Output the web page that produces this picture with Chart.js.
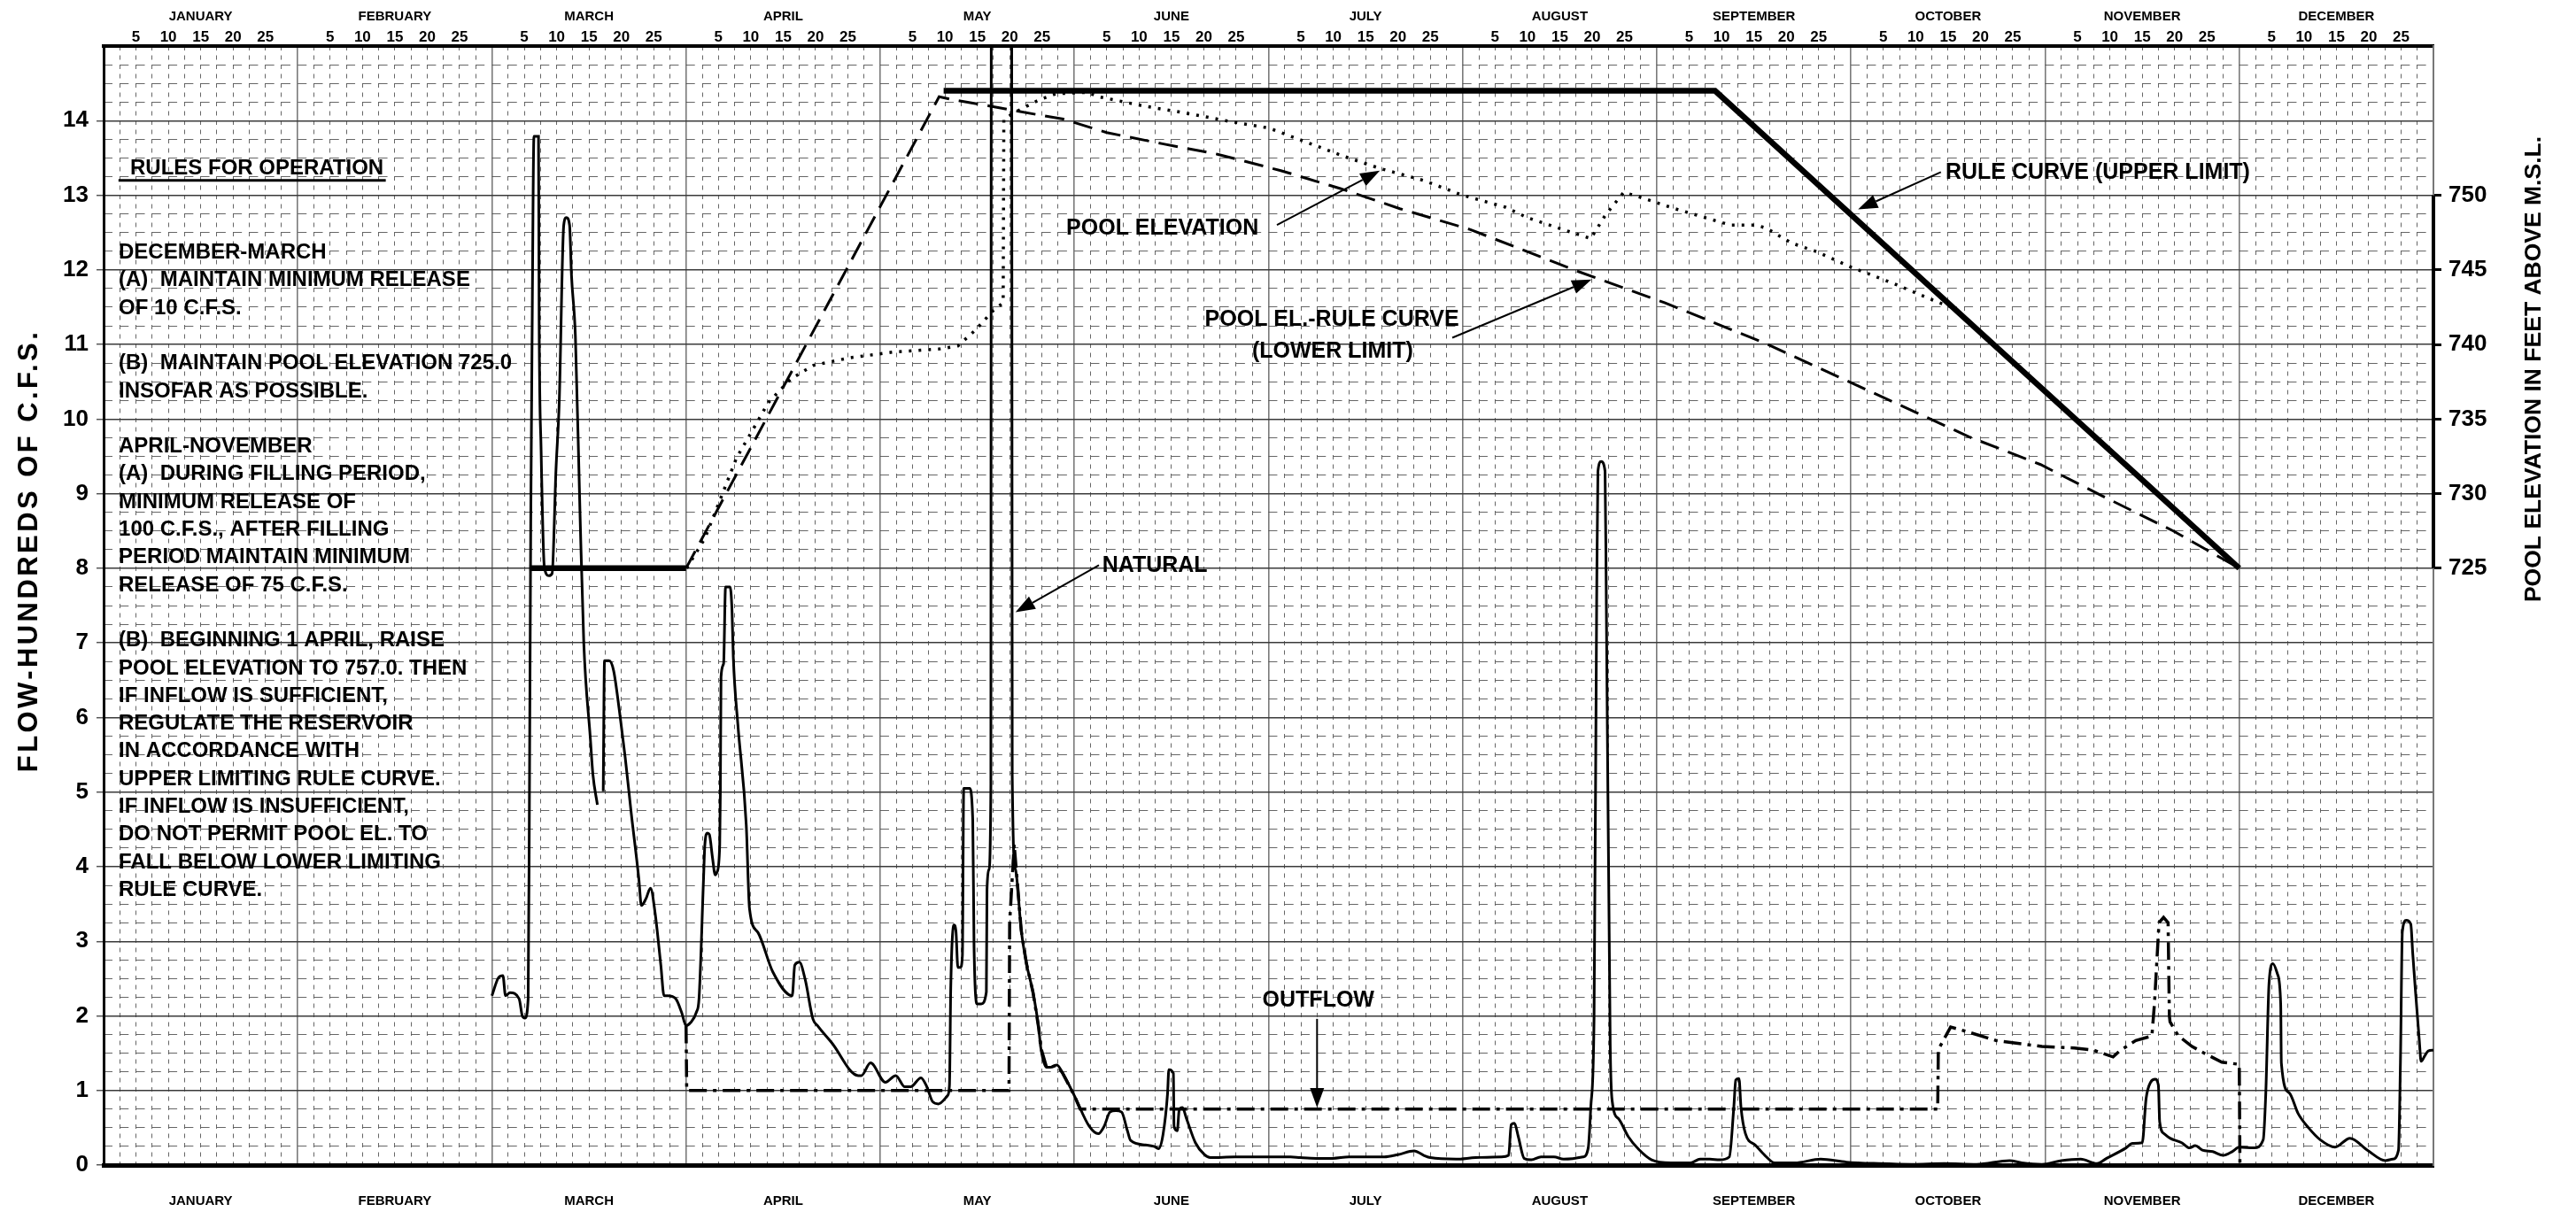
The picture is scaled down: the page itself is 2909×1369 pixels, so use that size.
<!DOCTYPE html>
<html>
<head>
<meta charset="utf-8">
<script src="https://cdn.jsdelivr.net/npm/chart.js@4.4.1/dist/chart.umd.min.js"></script>
<style>
  html, body { margin: 0; padding: 0; background: #fff; }
  #wrap { width: 2909px; height: 1369px; }
</style>
</head>
<body>
<div id="wrap"><canvas id="chart" width="2909" height="1369"></canvas></div>
<script>
// x is a day position on a 30-day-month year: Jan 1 = 0, Dec 31 = 360
const months = ['JANUARY', 'FEBRUARY', 'MARCH', 'APRIL', 'MAY', 'JUNE',
  'JULY', 'AUGUST', 'SEPTEMBER', 'OCTOBER', 'NOVEMBER', 'DECEMBER'];
const dayLabels = [5, 10, 15, 20, 25];
const flowTicks = [0, 1, 2, 3, 4, 5, 6, 7, 8, 9, 10, 11, 12, 13, 14];
const elevTicks = [725, 730, 735, 740, 745, 750];

// natural flow, hundreds of c.f.s.
const naturalDay = [60.0, 61.0, 61.7, 62.1, 62.8, 64.2, 64.7, 65.1, 65.6, 65.8, 66.0, 66.2, 66.5, 67.2, 67.3, 67.6,
  68.1, 68.8, 69.3, 69.9, 70.4, 71.1, 71.5, 72.0, 72.3, 72.9, 73.6, 74.2, 75.2, 75.6, 76.3, 76.8,
  77.2, 77.4, 78.1, 78.8, 79.7, 80.6, 81.5, 82.7, 83.1, 83.8, 84.5, 85.2, 86.1, 86.6, 87.2, 88.4,
  89.3, 90.0, 90.7, 91.6, 92.0, 92.7, 92.9, 93.3, 93.6, 94.1, 94.5, 94.8, 95.2, 95.3, 95.4, 95.8,
  96.1, 96.8, 97.1, 97.3, 98.0, 99.3, 99.8, 101.1, 103.4, 106.4, 106.8, 107.5, 108.4, 109.6, 110.3,
  112.5, 116.6, 117.1, 118.5, 120.8, 122.4, 123.8, 124.7, 126.3, 127.2, 128.1, 129.0, 130.4, 130.7,
  130.9, 131.4, 131.7, 132.0, 132.4, 132.7, 132.9, 133.8, 134.3, 134.5, 135.0, 135.6, 136.4, 136.5,
  136.8, 137.1, 137.3, 140.1, 140.4, 140.9, 141.8, 142.6, 143.6, 144.5, 144.8, 145.7, 146.3, 147.3,
  148.2, 150.0, 152.3, 153.7, 154.6, 155.5, 156.4, 157.3, 158.2, 158.7, 161.0, 162.3, 163.0, 163.7,
  164.4, 164.6, 165.3, 165.4, 165.9, 166.2, 166.7, 167.3, 168.7, 170.1, 171.0, 174.8, 180.8, 183.4,
  184.9, 187.4, 189.9, 192.4, 194.9, 197.9, 200.0, 202.5, 204.0, 205.0, 209.0, 212.0, 216.0, 217.1,
  217.5, 218.0, 218.6, 219.5, 220.6, 222.1, 224.1, 225.6, 228.6, 229.4, 229.8, 230.3, 230.7, 230.9,
  231.4, 232.0, 232.2, 232.8, 233.1, 234.1, 235.6, 237.2, 239.2, 242.2, 245.2, 246.7, 248.2, 249.7,
  251.2, 251.9, 252.2, 252.7, 253.0, 253.7, 255.2, 256.7, 258.2, 261.3, 265.3, 269.3, 274.3, 279.4,
  284.4, 289.4, 294.5, 296.4, 299.5, 302.5, 305.5, 308.0, 309.5, 312.5, 313.5, 315.0, 315.6, 316.3,
  317.0, 317.5, 317.7, 318.4, 319.3, 321.1, 322.3, 323.2, 324.3, 325.9, 327.5, 328.9, 330.0, 332.3,
  333.7, 334.1, 334.6, 335.2, 335.9, 336.4, 336.5, 337.7, 339.1, 340.7, 342.5, 344.8, 347.1, 349.8,
  352.6, 353.7, 354.6, 354.9, 355.2, 355.8, 356.5, 356.8, 357.2, 357.8, 358.1, 358.7, 359.2, 360.0];
const naturalFlow = [2.27, 2.51, 2.54, 2.27, 2.31, 2.23, 2.00, 1.97, 2.23, 5.01, 8.6, 11.0, 13.79, 13.79, 11.3, 9.59,
  8.02, 7.90, 7.93, 9.32, 10.22, 12.6, 12.70, 12.6, 11.92, 11.11, 8.78, 6.99, 5.73, 5.24, 4.83, null,
  5.01, 6.76, 6.76, 6.63, 6.09, 5.46, 4.74, 3.84, 3.48, 3.57, 3.71, 3.39, 2.68, 2.27, 2.27, 2.23,
  2.05, 1.87, 1.91, 2.05, 2.23, 3.84, 4.29, 4.45, 4.43, 4.11, 3.89, 3.93, 4.29, 5.01, 6.54, 6.72,
  7.75, 7.75, 7.43, 6.81, 5.91, 4.56, 3.44, 3.12, 2.59, 2.27, 2.68, 2.72, 2.49, 1.96, 1.87,
  1.64, 1.20, 1.20, 1.37, 1.11, 1.20, 1.05, 1.05, 1.17, 1.05, 0.85, 0.82, 0.93, 1.07,
  2.38, 3.22, 3.14, 2.65, 2.65, 2.81, 5.05, 5.05, 4.62, 2.92, 2.16, 2.16, 2.32, 3.69,
  3.96, 5.11, 40, 40, 5.22, 3.96, 3.14, 2.70, 2.32, 1.83, 1.58, 1.31, 1.31, 1.34,
  1.23, 0.93, 0.52, 0.42, 0.52, 0.71, 0.73, 0.71, 0.46, 0.33, 0.27, 0.25, 0.22, 0.41,
  0.96, 1.28, 1.23, 0.52, 0.46, 0.74, 0.77, 0.63, 0.30, 0.14, 0.10, 0.11, 0.11, 0.11,
  0.10, 0.09, 0.09, 0.11, 0.11, 0.11, 0.14, 0.19, 0.13, 0.10, 0.08, 0.10, 0.11, 0.13,
  0.54, 0.56, 0.38, 0.09, 0.07, 0.11, 0.11, 0.08, 0.11, 0.23, 0.78, 1.97, 7.5, 9.3,
  9.43, 9.3, 7.5, 1.6, 0.86, 0.62, 0.38, 0.21, 0.07, 0.03, 0.03, 0.08, 0.08, 0.07,
  0.11, 0.78, 1.14, 1.16, 0.78, 0.42, 0.27, 0.13, 0.03, 0.03, 0.08, 0.04, 0.02, 0.01,
  0.02, 0.01, 0.06, 0.03, 0.01, 0.06, 0.08, 0.02, 0.09, 0.23, 0.29, 0.30, 0.89, 1.11,
  1.15, 1.07, 0.58, 0.42, 0.36, 0.30, 0.23, 0.26, 0.20, 0.18, 0.13, 0.18, 0.24, 0.23,
  0.34, 0.97, 2.44, 2.70, 2.56, 2.16, 1.37, 0.97, 0.69, 0.50, 0.34, 0.24, 0.36, 0.20,
  0.06, 0.08, 0.20, 1.37, 3.13, 3.28, 3.23, 2.84, 2.36, 1.69, 1.39, 1.47, 1.53, 1.54];

// outflow, hundreds of c.f.s.
const outflowDay = [90.0, 90.1, 139.9, 140.0, 140.7, 141.8, 142.6, 143.6, 144.5, 144.8, 145.7, 146.3, 147.3,
  148.2, 150.0, 150.9, 283.4, 283.5, 285.4, 287.9, 292.4, 299.5, 304.5, 307.5, 310.5, 311.5, 314.0,
  316.5, 316.9, 317.6, 318.3, 319.0, 319.2, 319.3, 320.6, 322.7, 324.8, 327.3, 330.0, 330.1];
const outflowFlow = [1.87, 1.0, 1.0, 3.25, 4.3, 3.14, 2.70, 2.32, 1.83, 1.58, 1.31, 1.31, 1.34,
  1.23, 0.93, 0.75, 0.75, 1.55, 1.85, 1.79, 1.67, 1.59, 1.57, 1.54, 1.45, 1.53, 1.67,
  1.73, 2.17, 3.25, 3.32, 3.25, 2.0, 1.92, 1.73, 1.59, 1.49, 1.38, 1.35, 0];

// elevations, feet above m.s.l.
const poolDay = [90.1, 92.9, 95.0, 97.8, 100.6, 102.7, 106.2, 109.7, 115.2, 122.2, 129.2, 132.0, 134.8, 137.3,
  139.0, 139.1, 141.0, 144.6, 147.1, 152.0, 153.8, 160.5, 167.3, 174.6, 180.1, 185.6, 191.7, 197.2,
  203.9, 210.0, 216.6, 220.0, 225.5, 229.8, 232.1, 234.9, 237.2, 242.8, 249.0, 251.4, 255.3, 256.9,
  260.8, 264.8, 269.9, 276.5, 283.6, 285.6];
const poolElev = [725.0, 727.0, 729.3, 732.4, 734.5, 736.1, 737.7, 738.6, 739.1, 739.5, 739.7, 739.9, 741.0, 742.2,
  742.8, 755.1, 755.6, 756.4, 756.8, 756.9, 756.6, 756.0, 755.5, 754.9, 754.5, 753.6, 752.6, 751.8,
  751.0, 750.0, 749.2, 748.5, 747.7, 747.1, 748.7, 750.2, 749.9, 749.1, 748.3, 748.0, 748.0, 747.8,
  746.8, 746.2, 745.2, 744.1, 742.8, 742.5];

const upperDay = [65.8, 90.0, 90.1, 129.8, 249.0, 330.0];
const upperElev = [725, 725, null, 757.0, 757.0, 725];

const lowerDay = [90.0, 129.1, 131.2, 136.7, 141.0, 148.3, 155.0, 163.6, 172.1, 181.9, 191.1, 200.3,
  211.2, 227.8, 241.2, 256.9, 268.7, 280.5, 288.3, 299.3, 308.8, 319.8, 330.0];
const lowerElev = [725, 756.6, 756.4, 756.0, 755.65, 755.1, 754.2, 753.45, 752.75, 751.65, 750.45, 749.1,
  747.7, 744.9, 742.8, 740.05, 737.7, 735.35, 733.8, 731.95, 729.85, 727.5, 725];

const rules = [
  'DECEMBER-MARCH',
  '(A)  MAINTAIN MINIMUM RELEASE',
  'OF 10 C.F.S.',
  '',
  '(B)  MAINTAIN POOL ELEVATION 725.0',
  'INSOFAR AS POSSIBLE.',
  '',
  'APRIL-NOVEMBER',
  '(A)  DURING FILLING PERIOD,',
  'MINIMUM RELEASE OF',
  '100 C.F.S., AFTER FILLING',
  'PERIOD MAINTAIN MINIMUM',
  'RELEASE OF 75 C.F.S.',
  '',
  '(B)  BEGINNING 1 APRIL, RAISE',
  'POOL ELEVATION TO 757.0. THEN',
  'IF INFLOW IS SUFFICIENT,',
  'REGULATE THE RESERVOIR',
  'IN ACCORDANCE WITH',
  'UPPER LIMITING RULE CURVE.',
  'IF INFLOW IS INSUFFICIENT,',
  'DO NOT PERMIT POOL EL. TO',
  'FALL BELOW LOWER LIMITING',
  'RULE CURVE.'
];

const FONT = "'Liberation Sans', Arial, Helvetica, sans-serif";
Chart.defaults.font.family = FONT;
Chart.defaults.color = '#000';

const toXY = (xs, ys) => xs.map((x, i) => ({ x: x, y: ys[i] }));
const pin = size => s => { if (s.isHorizontal()) s.height = size; else s.width = size; };

// labels placed in data units (day, flow)
const notes = [
  { text: 'POOL ELEVATION', x: 163.6, y: 12.56, align: 'center' },
  { text: 'POOL EL.-RULE CURVE', x: 189.8, y: 11.33, align: 'center' },
  { text: '(LOWER LIMIT)', x: 189.9, y: 10.91, align: 'center' },
  { text: 'RULE CURVE (UPPER LIMIT)', x: 284.6, y: 13.30, align: 'left' },
  { text: 'NATURAL', x: 154.3, y: 8.03, align: 'left' },
  { text: 'OUTFLOW', x: 187.7, y: 2.21, align: 'center' }
];
const arrows = [
  { from: [181.3, 12.60], to: [197.2, 13.33] },
  { from: [208.4, 11.09], to: [229.9, 11.87] },
  { from: [283.9, 13.31], to: [271.1, 12.81] },
  { from: [153.8, 8.04], to: [140.9, 7.41] },
  { from: [187.5, 1.96], to: [187.5, 0.77] }
];

const annotate = {
  id: 'annotate',
  afterDraw(chart) {
    const { ctx, scales, chartArea } = chart;
    const px = d => scales.x.getPixelForValue(d);
    const py = f => scales.y.getPixelForValue(f);
    ctx.save();
    ctx.fillStyle = '#000';
    ctx.strokeStyle = '#000';

    // right axis thick part
    ctx.lineWidth = 4;
    ctx.beginPath();
    ctx.moveTo(chartArea.right, scales.y2.getPixelForValue(elevTicks[0]));
    ctx.lineTo(chartArea.right, scales.y2.getPixelForValue(elevTicks[elevTicks.length - 1]));
    ctx.stroke();

    // rules for operation
    ctx.font = 'bold 24px ' + FONT;
    ctx.textBaseline = 'middle';
    ctx.textAlign = 'left';
    ctx.fillText('RULES FOR OPERATION', px(4.1), py(13.36));
    ctx.lineWidth = 3;
    ctx.beginPath();
    ctx.moveTo(px(2.3), py(13.2));
    ctx.lineTo(px(43.6), py(13.2));
    ctx.stroke();
    const x0 = px(2.33), y0 = py(12.23);
    rules.forEach((t, i) => ctx.fillText(t, x0, y0 + i * 31.3));

    // curve labels
    ctx.font = 'bold 25px ' + FONT;
    notes.forEach(n => {
      ctx.textAlign = n.align;
      ctx.fillText(n.text, px(n.x), py(n.y));
    });

    // arrows
    ctx.lineWidth = 2;
    arrows.forEach(a => {
      const x1 = px(a.from[0]), y1 = py(a.from[1]);
      const x2 = px(a.to[0]), y2 = py(a.to[1]);
      const ang = Math.atan2(y2 - y1, x2 - x1);
      const hl = 22, hw = 8;
      const bx = x2 - hl * Math.cos(ang), by = y2 - hl * Math.sin(ang);
      ctx.beginPath();
      ctx.moveTo(x1, y1);
      ctx.lineTo(bx, by);
      ctx.stroke();
      ctx.beginPath();
      ctx.moveTo(x2, y2);
      ctx.lineTo(bx + hw * Math.sin(ang), by - hw * Math.cos(ang));
      ctx.lineTo(bx - hw * Math.sin(ang), by + hw * Math.cos(ang));
      ctx.closePath();
      ctx.fill();
    });

    // axis titles, both read bottom to top
    ctx.textAlign = 'center';
    const vText = (t, x, y, size, span) => {
      ctx.save();
      ctx.font = 'bold ' + size + 'px ' + FONT;
      if (span) {
        const w = ctx.measureText(t).width;
        ctx.letterSpacing = Math.max(0, (span - w) / (t.length - 1)) + 'px';
      }
      ctx.translate(x, y);
      ctx.rotate(-Math.PI / 2);
      ctx.fillText(t, 0, 0);
      ctx.restore();
    };
    vText('FLOW-HUNDREDS OF C.F.S.', 33, 622, 31, 497);
    vText('POOL ELEVATION IN FEET ABOVE M.S.L.', 2862, 417, 26.5, 0);
    ctx.restore();
  }
};

const monthMid = s => { s.ticks = months.map((m, i) => ({ value: i * 30 + 15 })); };

new Chart(document.getElementById('chart'), {
  type: 'line',
  data: {
    datasets: [
      {
        label: 'Natural',
        data: toXY(naturalDay, naturalFlow),
        xAxisID: 'x', yAxisID: 'y',
        borderColor: '#000', borderWidth: 3,
        cubicInterpolationMode: 'monotone',
        pointRadius: 0
      },
      {
        label: 'Outflow',
        data: toXY(outflowDay, outflowFlow),
        xAxisID: 'x', yAxisID: 'y',
        borderColor: '#000', borderWidth: 3.5,
        borderDash: [20, 7, 4, 7],
        tension: 0, pointRadius: 0
      },
      {
        label: 'Rule curve (upper limit)',
        data: toXY(upperDay, upperElev),
        xAxisID: 'x', yAxisID: 'y2',
        borderColor: '#000', borderWidth: 6.5,
        tension: 0, pointRadius: 0
      },
      {
        label: 'Pool el.-rule curve (lower limit)',
        data: toXY(lowerDay, lowerElev),
        xAxisID: 'x', yAxisID: 'y2',
        borderColor: '#000', borderWidth: 3,
        borderDash: [22, 11],
        tension: 0, pointRadius: 0
      },
      {
        label: 'Pool elevation',
        data: toXY(poolDay, poolElev),
        xAxisID: 'x', yAxisID: 'y2',
        borderColor: '#000', borderWidth: 3.5,
        borderDash: [3, 8],
        tension: 0, pointRadius: 0
      }
    ]
  },
  options: {
    responsive: false,
    animation: false,
    events: [],
    devicePixelRatio: 1,
    layout: { padding: 0 },
    plugins: {
      legend: { display: false },
      tooltip: { enabled: false }
    },
    scales: {
      x: {
        type: 'linear', position: 'bottom', min: 0, max: 360, weight: 1,
        afterBuildTicks: monthMid,
        ticks: {
          autoSkip: false, maxRotation: 0, padding: 33,
          font: { size: 15, weight: 'bold', lineHeight: 1 },
          callback: (v, i) => months[i]
        },
        grid: { display: false, drawTicks: false },
        border: { display: true, color: '#000', width: 5 },
        afterFit: pin(53)
      },
      xTop: {
        type: 'linear', position: 'top', min: 0, max: 360, weight: 1,
        afterBuildTicks: s => {
          s.ticks = [];
          months.forEach((m, i) => dayLabels.forEach(d => s.ticks.push({ value: i * 30 + d })));
        },
        ticks: {
          autoSkip: false, maxRotation: 0, padding: 1,
          font: { size: 17, weight: 'bold', lineHeight: 1 },
          callback: (v, i) => String(dayLabels[i % dayLabels.length])
        },
        grid: { display: false, drawTicks: false },
        border: { display: true, color: '#000', width: 4 },
        afterFit: pin(26)
      },
      xTopMonth: {
        type: 'linear', position: 'top', min: 0, max: 360, weight: 2,
        afterBuildTicks: monthMid,
        ticks: {
          autoSkip: false, maxRotation: 0, padding: 0,
          font: { size: 15, weight: 'bold', lineHeight: 1 },
          callback: (v, i) => months[i]
        },
        grid: { display: false, drawTicks: false },
        border: { display: false },
        afterFit: pin(26)
      },
      xMonthGrid: {
        type: 'linear', position: 'bottom', min: 0, max: 360, weight: 0,
        afterBuildTicks: s => { s.ticks = months.slice(1).map((m, i) => ({ value: (i + 1) * 30 })); },
        ticks: { display: false },
        grid: { color: '#7a7a7a', lineWidth: 1.6, drawTicks: false },
        border: { display: false },
        afterFit: pin(0)
      },
      xDayGrid: {
        type: 'linear', position: 'bottom', min: 0, max: 360, weight: 0,
        afterBuildTicks: s => {
          s.ticks = [];
          for (let k = 1; k < 144; k++) if (k % 12) s.ticks.push({ value: k * 2.5 });
        },
        ticks: { display: false },
        grid: { color: '#555', lineWidth: 0.9, drawTicks: false },
        border: { display: false, dash: [5, 5.5] },
        afterFit: pin(0)
      },
      y: {
        type: 'linear', position: 'left', min: 0, max: 15, weight: 1,
        afterBuildTicks: s => { s.ticks = flowTicks.map(v => ({ value: v })); },
        ticks: { autoSkip: false, padding: 9, font: { size: 26, weight: 'bold' } },
        grid: { color: '#3a3a3a', lineWidth: 1.4, tickLength: 8, tickColor: '#555', tickWidth: 1.5 },
        border: { display: true, color: '#000', width: 3 },
        afterFit: pin(117)
      },
      yQuarterGrid: {
        type: 'linear', position: 'left', min: 0, max: 15, weight: 0,
        afterBuildTicks: s => {
          s.ticks = [];
          for (let k = 1; k < 60; k++) if (k % 4) s.ticks.push({ value: k / 4 });
        },
        ticks: { display: false },
        grid: { color: '#555', lineWidth: 0.9, drawTicks: false },
        border: { display: false, dash: [10, 8.27] },
        afterFit: pin(0)
      },
      y2: {
        type: 'linear', position: 'right', min: 685, max: 760,
        afterBuildTicks: s => { s.ticks = elevTicks.map(v => ({ value: v })); },
        ticks: { autoSkip: false, padding: 8, font: { size: 26, weight: 'bold' } },
        grid: { drawOnChartArea: false, tickLength: 9, tickColor: '#000', tickWidth: 3 },
        border: { display: true, color: '#777', width: 2 },
        afterFit: pin(161)
      }
    }
  },
  plugins: [annotate]
});
</script>
</body>
</html>
